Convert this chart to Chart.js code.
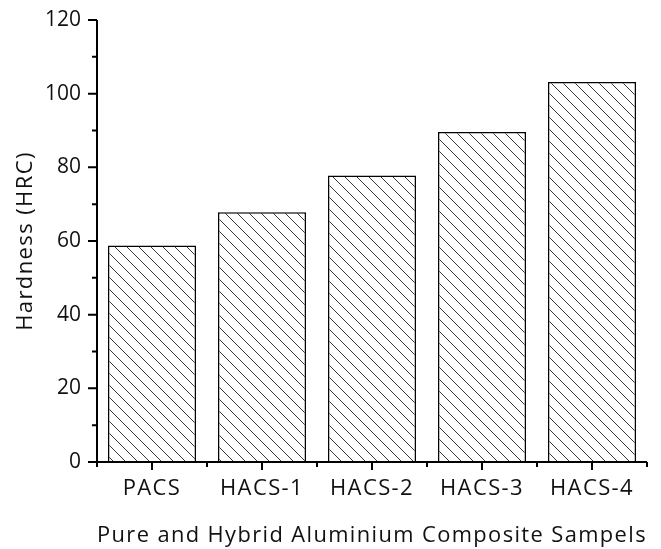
<!DOCTYPE html>
<html lang="en">
<head>
    <meta charset="UTF-8">
    <title>Hardness of Pure and Hybrid Aluminium Composite Samples</title>
    <script src="https://cdn.jsdelivr.net/npm/chart.js"></script>
    <style>
        body {
            margin: 0;
            padding: 0;
            background-color: white;
        }

        .chart-box {
            width: 661px;
            height: 549px;
        }
    </style>
</head>
<body>
    <div class="chart-box">
        <canvas id="chart" width="661" height="549"></canvas>
    </div>

    <script>
        const samples = ['PACS', 'HACS-1', 'HACS-2', 'HACS-3', 'HACS-4'];
        const hardness = [58.8, 67.8, 77.8, 89.6, 103.2];
        const yTicks = [0, 20, 40, 60, 80, 100, 120];
        const yMinorTicks = [10, 30, 50, 70, 90, 110];

        const fontFamily = "'Open Sans', sans-serif";

        // diagonal "\" hatch used to fill the bars
        function makeHatch() {
            const size = 12;
            const tile = document.createElement('canvas');
            tile.width = size;
            tile.height = size;
            const c = tile.getContext('2d');
            c.fillStyle = 'white';
            c.fillRect(0, 0, size, size);
            c.strokeStyle = '#3a3a3a';
            c.lineWidth = 1;
            c.beginPath();
            c.moveTo(-1, -1);
            c.lineTo(size + 1, size + 1);
            c.moveTo(-1, size - 1);
            c.lineTo(1, size + 1);
            c.moveTo(size - 1, -1);
            c.lineTo(size + 1, 1);
            c.stroke();
            return tile;
        }

        const ctx = document.getElementById('chart').getContext('2d');
        const hatch = ctx.createPattern(makeHatch(), 'repeat');

        // spaced-out lettering for titles and category labels,
        // plain spacing again for the y tick numbers (drawn after the bars)
        const letterSpacing = {
            id: 'letterSpacing',
            beforeDraw(chart) { chart.ctx.letterSpacing = '1.4px'; },
            afterDatasetsDraw(chart) { chart.ctx.letterSpacing = '0px'; }
        };

        // axis lines and tick marks (major + minor), drawn from the scales
        const axisTicks = {
            id: 'axisTicks',
            afterDraw(chart) {
                const { ctx, chartArea, scales } = chart;
                const x = scales.x, y = scales.y;
                ctx.save();
                ctx.strokeStyle = 'black';
                ctx.lineWidth = 2;
                ctx.beginPath();
                ctx.moveTo(chartArea.left, y.getPixelForValue(120));
                ctx.lineTo(chartArea.left, chartArea.bottom);
                ctx.lineTo(chartArea.right, chartArea.bottom);
                yTicks.forEach(v => {
                    const py = y.getPixelForValue(v);
                    ctx.moveTo(chartArea.left - 9, py);
                    ctx.lineTo(chartArea.left, py);
                });
                yMinorTicks.forEach(v => {
                    const py = y.getPixelForValue(v);
                    ctx.moveTo(chartArea.left - 5, py);
                    ctx.lineTo(chartArea.left, py);
                });
                samples.forEach((s, i) => {
                    const px = x.getPixelForValue(i);
                    ctx.moveTo(px, chartArea.bottom);
                    ctx.lineTo(px, chartArea.bottom + 8);
                });
                for (let i = 0; i <= samples.length; i++) {
                    const px = x.getPixelForValue(i - 0.5);
                    ctx.moveTo(px, chartArea.bottom);
                    ctx.lineTo(px, chartArea.bottom + 5);
                }
                ctx.stroke();
                ctx.restore();
            }
        };

        new Chart(ctx, {
            type: 'bar',
            data: {
                labels: samples,
                datasets: [{
                    label: 'Hardness (HRC)',
                    data: hardness,
                    backgroundColor: hatch,
                    borderColor: 'black',
                    borderWidth: 1.5,
                    barPercentage: 0.8,
                    categoryPercentage: 1.0
                }]
            },
            options: {
                responsive: false,
                animation: false,
                layout: { padding: { top: 20, right: 14, left: 0, bottom: 0 } },
                plugins: {
                    legend: { display: false },
                    tooltip: { enabled: false }
                },
                scales: {
                    x: {
                        offset: true,
                        grid: { display: false, drawTicks: false },
                        border: { display: false },
                        ticks: {
                            color: '#111',
                            padding: 14,
                            font: { family: fontFamily, size: 22 }
                        },
                        title: {
                            display: true,
                            text: 'Pure and Hybrid Aluminium Composite Sampels',
                            color: '#111',
                            padding: { top: 0, bottom: 0 },
                            font: { family: fontFamily, size: 22 }
                        },
                        afterFit(scale) { scale.height = 87; }
                    },
                    y: {
                        min: 0,
                        max: 120,
                        grid: { display: false, drawTicks: false },
                        border: { display: false },
                        afterBuildTicks(scale) {
                            scale.ticks = yTicks.map(v => ({ value: v }));
                        },
                        ticks: {
                            z: 1,
                            color: '#111',
                            padding: 16,
                            font: { family: fontFamily, size: 21 }
                        },
                        title: {
                            display: true,
                            text: 'Hardness (HRC)',
                            color: '#111',
                            padding: { top: 13, bottom: 13 },
                            font: { family: fontFamily, size: 22 }
                        },
                        afterFit(scale) {
                            scale.width = 97;
                            scale.paddingTop = 0;
                            scale.paddingBottom = 0;
                        }
                    }
                }
            },
            plugins: [letterSpacing, axisTicks]
        });
    </script>
</body>
</html>
